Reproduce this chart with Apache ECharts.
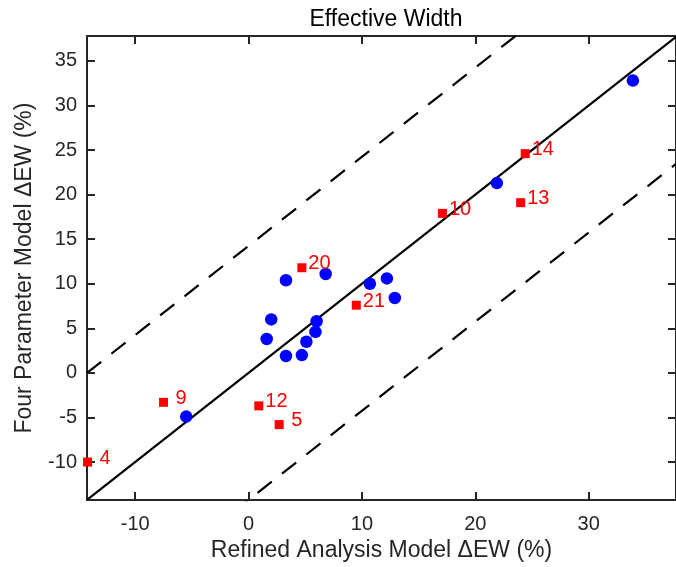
<!DOCTYPE html>
<html>
<head>
<meta charset="utf-8">
<script src="https://cdn.jsdelivr.net/npm/echarts@6/dist/echarts.min.js"></script>
<style>
html,body{margin:0;padding:0;background:#fff;}
#chart{width:676px;height:567px;}
</style>
</head>
<body>
<div id="chart"></div>
<script>
// ---- data ----
const titleText = 'Effective Width';
const xName = 'Refined Analysis Model \u0394EW (%)';
const yName = 'Four Parameter Model \u0394EW (%)';

const xMin = -14.25, xMax = 37.7;
const yMin = -14.27, yMax = 37.8;
const xTicks = [-10, 0, 10, 20, 30];
const yTicks = [-10, -5, 0, 5, 10, 15, 20, 25, 30, 35];

// blue circles
const blueX = [33.9, 21.9, 10.7, 12.2, 12.9, 3.3, 6.8, 2.0, 1.6, 3.3, 4.7, 5.1, 5.9, 6.0, -5.5];
const blueY = [32.8, 21.3, 10.0, 10.6, 8.4, 10.4, 11.1, 6.0, 3.8, 1.9, 2.0, 3.5, 4.6, 5.8, -4.9];

// red squares with ids
const redIds = [4, 9, 12, 5, 20, 21, 10, 13, 14];
const redX = [-14.2, -7.5, 0.9, 2.7, 4.7, 9.5, 17.1, 24.0, 24.4];
const redY = [-10.0, -3.3, -3.7, -5.8, 11.8, 7.6, 17.9, 19.1, 24.6];

// reference lines y = x + offset
const solidOffset = 0;
const dashOffsets = [14.25, -14.25];

// ---- build ----
const axisColor = '#262626';
const font = 'Liberation Sans, Arial, Helvetica, sans-serif';

function lineData(off) {
  return [[xMin, xMin + off], [xMax, xMax + off]];
}

function makeX(pos, showLabel) {
  return {
    type: 'value', position: pos, min: xMin, max: xMax,
    name: showLabel ? xName : '', nameLocation: 'middle', nameGap: 37,
    nameTextStyle: { fontSize: 23, color: axisColor, fontFamily: font },
    axisLine: { show: true, onZero: false, lineStyle: { color: axisColor, width: 2 } },
    axisTick: { show: true, inside: true, length: 8, customValues: xTicks, lineStyle: { color: axisColor, width: 2 } },
    axisLabel: { show: showLabel, customValues: xTicks, fontSize: 20, color: axisColor, fontFamily: font, margin: 14 },
    splitLine: { show: false }
  };
}
function makeY(pos, showLabel) {
  return {
    type: 'value', position: pos, min: yMin, max: yMax,
    name: showLabel ? yName : '', nameLocation: 'middle', nameGap: 51, nameRotate: 90,
    nameTextStyle: { fontSize: 23, color: axisColor, fontFamily: font },
    axisLine: { show: true, onZero: false, lineStyle: { color: axisColor, width: 2 } },
    axisTick: { show: true, inside: true, length: 8, customValues: yTicks, lineStyle: { color: axisColor, width: 2 } },
    axisLabel: { show: showLabel, customValues: yTicks, fontSize: 20, color: axisColor, fontFamily: font, margin: 10 },
    splitLine: { show: false }
  };
}

const chart = echarts.init(document.getElementById('chart'), null, { renderer: 'canvas' });
chart.setOption({
  animation: false,
  backgroundColor: '#fff',
  title: {
    text: titleText, left: 381, top: 3, textAlign: 'center',
    textStyle: { fontSize: 23, fontWeight: 'normal', color: '#000', fontFamily: font }
  },
  grid: { left: 87, right: -5, top: 36, bottom: 66, containLabel: false },
  xAxis: [makeX('bottom', true), makeX('top', false)],
  yAxis: [makeY('left', true), makeY('right', false)],
  series: [
    {
      type: 'line', data: lineData(solidOffset), symbol: 'none', silent: true, clip: true, z: 1,
      lineStyle: { color: '#000', width: 2.2 }
    },
    ...dashOffsets.map(off => ({
      type: 'line', data: lineData(off), symbol: 'none', silent: true, clip: true, z: 1,
      lineStyle: { color: '#000', width: 2.2, type: [18, 13] }
    })),
    {
      type: 'scatter', symbol: 'circle', symbolSize: 12.5, clip: false, z: 3,
      itemStyle: { color: '#0000FF', opacity: 1 },
      data: blueX.map((x, i) => [x, blueY[i]])
    },
    {
      type: 'scatter', symbol: 'rect', symbolSize: 9, clip: false, z: 3,
      itemStyle: { color: '#FF0000', opacity: 1 },
      data: redX.map((x, i) => [x, redY[i], redIds[i]]),
      label: {
        show: true, position: 'right', distance: 2, offset: [0, -4],
        color: '#FF0000', fontSize: 20, fontFamily: font,
        formatter: p => (p.value[2] < 10 ? ' ' : '') + p.value[2]
      }
    }
  ]
});
</script>
</body>
</html>
